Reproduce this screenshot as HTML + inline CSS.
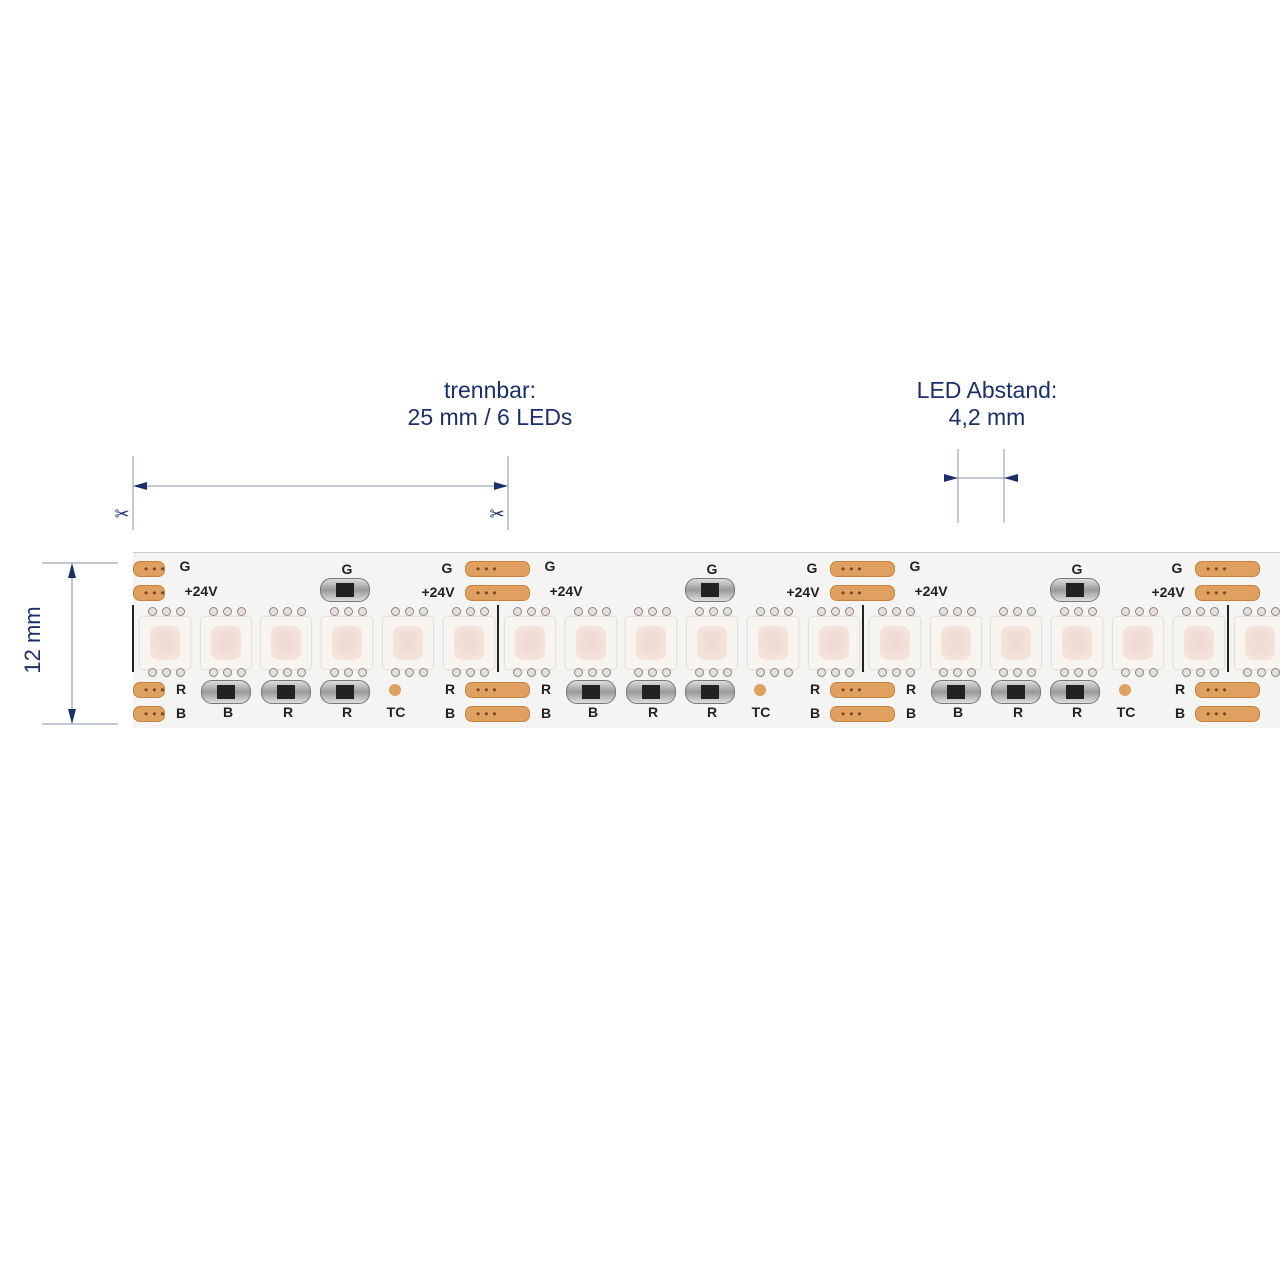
<!DOCTYPE html>
<html><head><meta charset="utf-8"><style>
body{margin:0;width:1280px;height:1280px;background:#fff;position:relative;overflow:hidden;font-family:"Liberation Sans",sans-serif}
.a{position:absolute}
.t{color:#1b2f6b;font-size:23px;text-align:center;line-height:27px}
.lbl{position:absolute;font-weight:bold;font-size:14px;color:#222;transform:translate(-50%,-50%)}
.pad{position:absolute;height:14px;border-radius:7px;background:#e0a060;border:1px solid #c8823e;overflow:hidden;white-space:nowrap;font-size:12px;line-height:14px;color:#7a4a20;text-indent:10px;letter-spacing:4px}
.led{position:absolute;width:50px;height:52px;background:#f8f4f0;border-radius:3px;box-shadow:0 0 2px #bbb}
.led:after{content:"";position:absolute;left:10px;top:9px;width:30px;height:34px;border-radius:8px;background:radial-gradient(#f0d8d0,#f5e6e0)}
.res{position:absolute;width:48px;height:22px;border-radius:11px;background:linear-gradient(#ddd,#999,#ddd);border:1px solid #777}
.res:after{content:"";position:absolute;left:15px;top:4px;width:18px;height:14px;background:#222}
.pin{position:absolute;width:7px;height:7px;border-radius:50%;border:1.5px solid #888;background:#e8e0d8}
</style></head><body>
<div class="a t" style="left:340px;top:377px;width:300px">trennbar:<br>25 mm / 6 LEDs</div>
<div class="a t" style="left:837px;top:377px;width:300px">LED Abstand:<br>4,2 mm</div>
<svg class="a" style="left:0;top:0" width="1280" height="1280">
<g stroke="#8a93b0" stroke-width="1">
<line x1="133" y1="456" x2="133" y2="530"/><line x1="508" y1="456" x2="508" y2="530"/>
<line x1="140" y1="486" x2="500" y2="486"/>
<line x1="958" y1="449" x2="958" y2="523"/><line x1="1004" y1="449" x2="1004" y2="523"/>
<line x1="945" y1="478" x2="1017" y2="478"/>
<line x1="42" y1="563" x2="118" y2="563"/><line x1="42" y1="724" x2="118" y2="724"/>
<line x1="72" y1="570" x2="72" y2="717"/>
</g>
<g fill="#1b2f6b">
<polygon points="133,486 147,482 147,490"/><polygon points="508,486 494,482 494,490"/>
<polygon points="958,478 944,474 944,482"/><polygon points="1004,478 1018,474 1018,482"/>
<polygon points="72,563 68,578 76,578"/><polygon points="72,724 68,709 76,709"/>
</g>
<text x="122" y="520" font-size="18" fill="#1b2f6b" text-anchor="middle">✂</text>
<text x="497" y="520" font-size="18" fill="#1b2f6b" text-anchor="middle">✂</text>
<text x="40" y="640" font-size="22" fill="#1b2f6b" text-anchor="middle" transform="rotate(-90 40 640)" font-family="Liberation Sans">12 mm</text>
</svg>
<div class="a" style="left:133px;top:552px;width:1147px;height:175px;background:#f4f4f2;border-top:1px solid #ccc"></div>
<div id="s" class="a" style="left:0;top:0;width:1280px;height:1280px;overflow:hidden"></div>
<script>
var h='';
function L(x,y,t){if(x<1272)h+='<div class="lbl" style="left:'+x+'px;top:'+y+'px">'+t+'</div>';}
for(var s=0;s<4;s++){var o=133+s*365;
 h+='<div class="a" style="left:'+(o-1)+'px;top:605px;width:2px;height:67px;background:#222"></div>';
 [569,593,690,714].forEach(function(y){var l=Math.max(o-33,133),r=Math.min(o+30,1280);h+='<div class="pad" style="left:'+l+'px;top:'+(y-8)+'px;width:'+(r-l)+'px">•••</div>';});
 L(o+52,566,'G');L(o+68,591,'+24V');L(o+214,569,'G');L(o+314,568,'G');L(o+305,592,'+24V');
 h+='<div class="res" style="left:'+(o+187)+'px;top:578px"></div>';
 L(o+48,689,'R');L(o+48,713,'B');L(o+317,689,'R');L(o+317,713,'B');
 [[68,'B'],[128,'R'],[187,'R']].forEach(function(r){h+='<div class="res" style="left:'+(o+r[0])+'px;top:680px"></div>';L(o+r[0]+27,712,r[1]);});
 h+='<div class="a" style="left:'+(o+256)+'px;top:684px;width:12px;height:12px;border-radius:50%;background:#e0a060"></div>';L(o+263,712,'TC');
 for(var i=0;i<6;i++){var x=o+7+i*60.7;if(x>1280)break;
  h+='<div class="led" style="left:'+x+'px;top:617px"></div>';
  for(var p=0;p<3;p++){h+='<div class="pin" style="left:'+(x+8+p*14)+'px;top:607px"></div><div class="pin" style="left:'+(x+8+p*14)+'px;top:668px"></div>';}
 }
}
document.getElementById('s').innerHTML=h;
</script>
</body></html>
